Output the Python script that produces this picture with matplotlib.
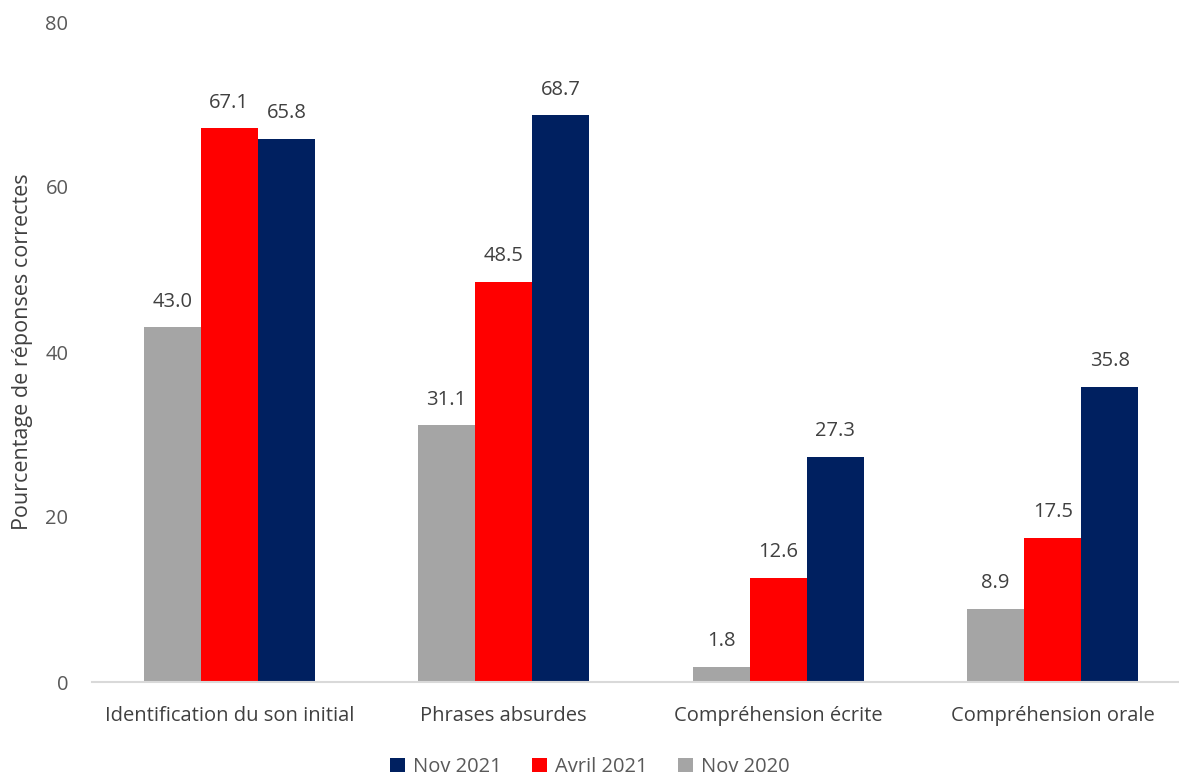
import matplotlib
matplotlib.use("Agg")
import matplotlib.pyplot as plt
import numpy as np

categories = ["Identification du son initial", "Phrases absurdes",
              "Compréhension écrite", "Compréhension orale"]
nov_2020 = [43.0, 31.1, 1.8, 8.9]
avril_2021 = [67.1, 48.5, 12.6, 17.5]
nov_2021 = [65.8, 68.7, 27.3, 35.8]
y_ticks = [0, 20, 40, 60, 80]

series = [("Nov 2020", nov_2020, "#A5A5A5"),
          ("Avril 2021", avril_2021, "#FF0000"),
          ("Nov 2021", nov_2021, "#002060")]

plt.rcParams["font.family"] = ["Open Sans", "DejaVu Sans"]

W, H = 1179, 775
fig = plt.figure(figsize=(W / 100, H / 100), dpi=100)
ax = fig.add_axes([92 / W, (H - 682) / H, (1179 - 92) / W, (682 - 22) / H])

x = np.arange(len(categories))
width = 0.208
handles = {}
for i, (name, vals, color) in enumerate(series):
    pos = x + (i - 1) * width
    bars = ax.bar(pos, vals, width=width, color=color, label=name, zorder=2)
    handles[name] = bars
    for xp, v in zip(pos, vals):
        ax.text(xp, v + 1.9, f"{v:.1f}", ha="center", va="bottom",
                fontsize=14.5, color="#404040")

ax.set_xlim(-0.5, 3.46)
ax.set_ylim(0, 80)
ax.set_yticks(y_ticks)
ax.set_yticklabels([str(t) for t in y_ticks], fontsize=14.5, color="#595959")
ax.set_xticks(x)
ax.set_xticklabels(categories, fontsize=14.5, color="#404040")
ax.tick_params(axis="both", length=0)
ax.tick_params(axis="y", pad=17)
ax.tick_params(axis="x", pad=17)

for s in ["top", "right", "left"]:
    ax.spines[s].set_visible(False)
ax.spines["bottom"].set_color("#D9D9D9")
ax.spines["bottom"].set_linewidth(1.5)

ax.set_ylabel("Pourcentage de réponses correctes", fontsize=15.5,
              color="#404040")
ax.yaxis.set_label_coords(-0.054, 0.5)

order = ["Nov 2021", "Avril 2021", "Nov 2020"]
fig.legend([handles[n] for n in order], order, loc="lower center",
           bbox_to_anchor=(0.5, -0.026), ncol=3, frameon=False,
           fontsize=14.5, labelcolor="#595959", handlelength=0.75,
           handleheight=0.75, handletextpad=0.4, columnspacing=1.5)

fig.savefig("out.png", dpi=100)
